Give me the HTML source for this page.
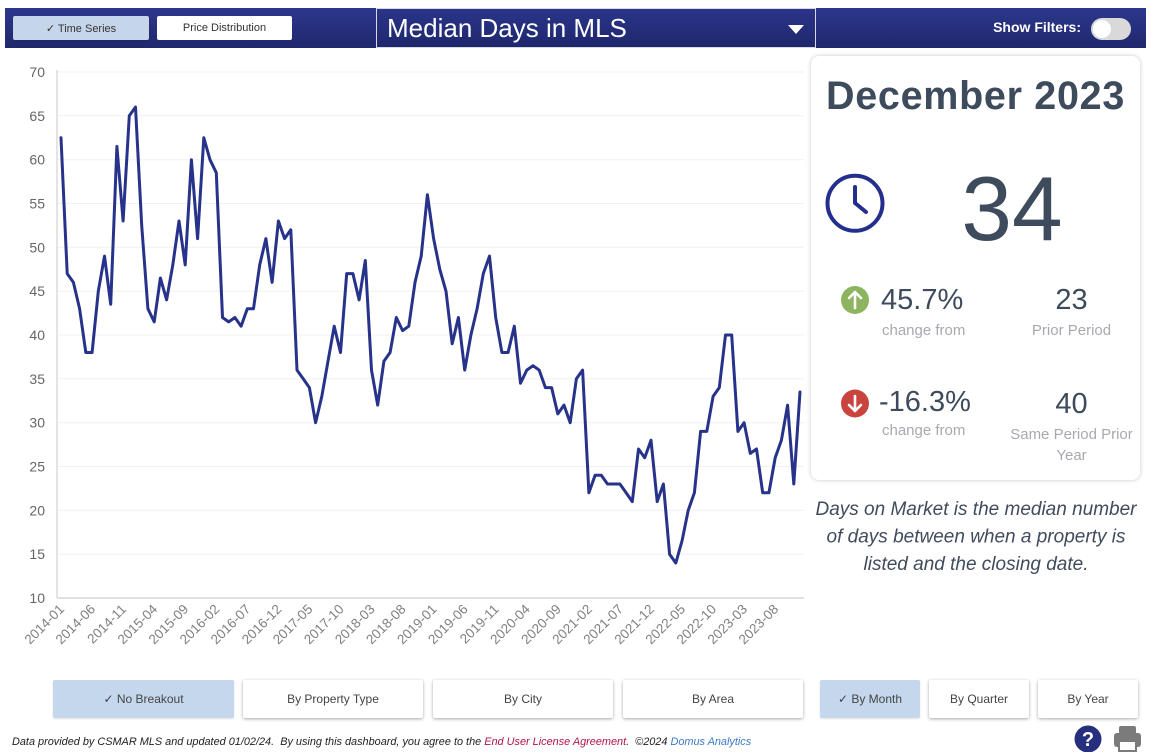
<!DOCTYPE html>
<html><head><meta charset="utf-8">
<style>
*{box-sizing:border-box;margin:0;padding:0}
body{width:1151px;height:752px;overflow:hidden;background:#fff;font-family:"Liberation Sans",Arial,sans-serif;position:relative}
.abs{position:absolute}
.hdr{left:5px;top:8px;width:1141px;height:40px;background:linear-gradient(#2c388d,#1f276c)}
.tbtn{top:16px;height:24px;font-size:11px;color:#333;display:flex;align-items:center;justify-content:center;border-radius:2px}
.title{left:376px;top:8px;width:440px;height:40px;border:1px solid #d8d8e8;background:linear-gradient(#2a358a,#1f276c);color:#fff;font-size:26px;line-height:38px;padding-left:10px}
.sf{left:960px;top:19px;width:121px;text-align:right;color:#fff;font-weight:bold;font-size:14px}
.tog{left:1091px;top:18px;width:40px;height:22px;border-radius:11px;background:#d9d9d9}
.knob{left:1093px;top:20px;width:18px;height:18px;border-radius:9px;background:#fff}
.card{left:811px;top:56px;width:329px;height:424px;border-radius:8px;background:#fff;box-shadow:0 0 4px rgba(0,0,0,0.22)}
.btn{top:680px;height:38px;background:#fff;box-shadow:0 1px 3px rgba(0,0,0,0.35);font-size:12px;color:#444;display:flex;align-items:center;justify-content:center;border-radius:2px}
.sel{background:#c5d7ec;box-shadow:0 1px 2px rgba(0,0,0,0.12)}
.foot{left:12px;top:736px;font-size:10.9px;font-style:italic;color:#222;white-space:pre}
</style></head><body>
<div class="abs hdr"></div>
<div class="abs tbtn sel" style="left:13px;width:136px;background:#c5d6ea">✓ Time Series</div>
<div class="abs tbtn" style="left:157px;width:135px;background:#fff">Price Distribution</div>
<div class="abs title">Median Days in MLS</div>
<svg class="abs" style="left:786px;top:22px" width="20" height="14"><polygon points="2,3 18,3 10,12" fill="#fff"/></svg>
<div class="abs sf">Show Filters:</div>
<div class="abs tog"></div>
<div class="abs knob"></div>

<svg class="abs" style="left:0;top:0" width="810" height="670">
<g stroke="#f0f0f0" stroke-width="1">
<line x1="57" x2="804" y1="72" y2="72"/><line x1="57" x2="804" y1="115.8" y2="115.8"/><line x1="57" x2="804" y1="159.7" y2="159.7"/><line x1="57" x2="804" y1="203.5" y2="203.5"/><line x1="57" x2="804" y1="247.3" y2="247.3"/><line x1="57" x2="804" y1="291.2" y2="291.2"/><line x1="57" x2="804" y1="335" y2="335"/><line x1="57" x2="804" y1="378.8" y2="378.8"/><line x1="57" x2="804" y1="422.7" y2="422.7"/><line x1="57" x2="804" y1="466.5" y2="466.5"/><line x1="57" x2="804" y1="510.3" y2="510.3"/><line x1="57" x2="804" y1="554.2" y2="554.2"/>
</g>
<line x1="57" x2="804" y1="598" y2="598" stroke="#cfcfcf" stroke-width="1.2"/>
<line x1="57" x2="57" y1="70" y2="598" stroke="#dcdcdc" stroke-width="1.5"/>
<g font-family="Liberation Sans, Arial, sans-serif" font-size="14" fill="#666" text-anchor="end">
<text x="45" y="77">70</text><text x="45" y="120.8">65</text><text x="45" y="164.7">60</text><text x="45" y="208.5">55</text><text x="45" y="252.3">50</text><text x="45" y="296.2">45</text><text x="45" y="340">40</text><text x="45" y="383.8">35</text><text x="45" y="427.7">30</text><text x="45" y="471.5">25</text><text x="45" y="515.3">20</text><text x="45" y="559.2">15</text><text x="45" y="603">10</text>
</g>
<polyline fill="none" stroke="#27338a" stroke-width="3" stroke-linejoin="round" stroke-linecap="round" points="61.0,137.8 67.2,273.6 73.4,282.4 79.6,308.7 85.8,352.5 92.1,352.5 98.3,291.2 104.5,256.1 110.7,304.3 116.9,146.5 123.1,221.0 129.3,115.8 135.5,107.1 141.7,225.4 147.9,308.7 154.2,321.9 160.4,278.0 166.6,299.9 172.8,264.9 179.0,221.0 185.2,264.9 191.4,159.7 197.6,238.6 203.8,137.8 210.0,159.7 216.3,172.8 222.5,317.5 228.7,321.9 234.9,317.5 241.1,326.2 247.3,308.7 253.5,308.7 259.7,264.9 265.9,238.6 272.1,282.4 278.4,221.0 284.6,238.6 290.8,229.8 297.0,370.1 303.2,378.8 309.4,387.6 315.6,422.7 321.8,396.4 328.0,361.3 334.2,326.2 340.5,352.5 346.7,273.6 352.9,273.6 359.1,299.9 365.3,260.5 371.5,370.1 377.7,405.1 383.9,361.3 390.1,352.5 396.3,317.5 402.6,330.6 408.8,326.2 415.0,282.4 421.2,256.1 427.4,194.7 433.6,238.6 439.8,269.3 446.0,291.2 452.2,343.8 458.4,317.5 464.7,370.1 470.9,335.0 477.1,308.7 483.3,273.6 489.5,256.1 495.7,317.5 501.9,352.5 508.1,352.5 514.3,326.2 520.5,383.2 526.8,370.1 533.0,365.7 539.2,370.1 545.4,387.6 551.6,387.6 557.8,413.9 564.0,405.1 570.2,422.7 576.4,378.8 582.6,370.1 588.9,492.8 595.1,475.3 601.3,475.3 607.5,484.0 613.7,484.0 619.9,484.0 626.1,492.8 632.3,501.6 638.5,449.0 644.7,457.7 651.0,440.2 657.2,501.6 663.4,484.0 669.6,554.2 675.8,563.0 682.0,541.0 688.2,510.4 694.4,492.8 700.6,431.4 706.8,431.4 713.1,396.4 719.3,387.6 725.5,335.0 731.7,335.0 737.9,431.4 744.1,422.7 750.3,453.4 756.5,449.0 762.7,492.8 768.9,492.8 775.2,457.7 781.4,440.2 787.6,405.1 793.8,484.0 800.0,392.0"/>
<g font-family="Liberation Sans, Arial, sans-serif" font-size="13.5" fill="#808080" text-anchor="end">
<text transform="translate(65,610) rotate(-45)">2014-01</text>
<text transform="translate(96.1,610) rotate(-45)">2014-06</text>
<text transform="translate(127.1,610) rotate(-45)">2014-11</text>
<text transform="translate(158.2,610) rotate(-45)">2015-04</text>
<text transform="translate(189.2,610) rotate(-45)">2015-09</text>
<text transform="translate(220.3,610) rotate(-45)">2016-02</text>
<text transform="translate(251.3,610) rotate(-45)">2016-07</text>
<text transform="translate(282.4,610) rotate(-45)">2016-12</text>
<text transform="translate(313.4,610) rotate(-45)">2017-05</text>
<text transform="translate(344.5,610) rotate(-45)">2017-10</text>
<text transform="translate(375.5,610) rotate(-45)">2018-03</text>
<text transform="translate(406.6,610) rotate(-45)">2018-08</text>
<text transform="translate(437.6,610) rotate(-45)">2019-01</text>
<text transform="translate(468.7,610) rotate(-45)">2019-06</text>
<text transform="translate(499.7,610) rotate(-45)">2019-11</text>
<text transform="translate(530.8,610) rotate(-45)">2020-04</text>
<text transform="translate(561.8,610) rotate(-45)">2020-09</text>
<text transform="translate(592.9,610) rotate(-45)">2021-02</text>
<text transform="translate(623.9,610) rotate(-45)">2021-07</text>
<text transform="translate(655.0,610) rotate(-45)">2021-12</text>
<text transform="translate(686.0,610) rotate(-45)">2022-05</text>
<text transform="translate(717.1,610) rotate(-45)">2022-10</text>
<text transform="translate(748.1,610) rotate(-45)">2023-03</text>
<text transform="translate(779.2,610) rotate(-45)">2023-08</text>
</g>
</svg>

<div class="abs card"></div>
<svg class="abs" style="left:0;top:0;pointer-events:none" width="1151" height="752">
<g font-family="Liberation Sans, Arial, sans-serif" fill="#3d4b5c">
<text x="975.5" y="109" font-size="39.5" font-weight="bold" text-anchor="middle" letter-spacing="0.7">December 2023</text>
<text x="1012" y="240" font-size="91" text-anchor="middle">34</text>
<text x="881" y="309" font-size="29">45.7%</text>
<text x="1071.5" y="309" font-size="29" text-anchor="middle">23</text>
<text x="879" y="411" font-size="29">-16.3%</text>
<text x="1071.5" y="413" font-size="29" text-anchor="middle">40</text>
</g>
<g font-family="Liberation Sans, Arial, sans-serif" fill="#a8a9b0" font-size="15">
<text x="882" y="335">change from</text>
<text x="1071.5" y="335" text-anchor="middle">Prior Period</text>
<text x="882" y="435">change from</text>
<text x="1071.5" y="439" text-anchor="middle">Same Period Prior</text>
<text x="1071.5" y="460" text-anchor="middle">Year</text>
</g>
<circle cx="855" cy="203.3" r="27.5" fill="none" stroke="#232f8c" stroke-width="4"/>
<polyline points="855,187 855,203 866,212" fill="none" stroke="#232f8c" stroke-width="4" stroke-linecap="round" stroke-linejoin="round"/>
<circle cx="855" cy="300" r="14" fill="#8db45e"/>
<path d="M855,308 L855,292 M849,298 L855,292 L861,298" fill="none" stroke="#fff" stroke-width="2.6" stroke-linecap="round" stroke-linejoin="round"/>
<circle cx="855" cy="403.5" r="14" fill="#c9443e"/>
<path d="M855,396 L855,411 M849,405 L855,411 L861,405" fill="none" stroke="#fff" stroke-width="2.6" stroke-linecap="round" stroke-linejoin="round"/>
<g font-family="Liberation Sans, Arial, sans-serif" font-style="italic" font-size="19" fill="#404b5c" text-anchor="middle">
<text x="976" y="515">Days on Market is the median number</text>
<text x="976" y="542.5">of days between when a property is</text>
<text x="976" y="570">listed and the closing date.</text>
</g>
<circle cx="1088" cy="739" r="13.5" fill="#26307f"/>
<text x="1088" y="746" font-family="Liberation Sans, Arial, sans-serif" font-weight="bold" font-size="20" fill="#fff" text-anchor="middle">?</text>
<rect x="1119" y="726" width="17" height="9" rx="2" fill="#7b7b7b"/>
<rect x="1114" y="733" width="27" height="14" rx="3" fill="#7b7b7b"/>
<rect x="1119" y="741" width="17" height="10" fill="#fff" stroke="#7b7b7b" stroke-width="2"/>
</svg>

<div class="abs btn sel" style="left:53px;width:181px">✓ No Breakout</div>
<div class="abs btn" style="left:243px;width:180px">By Property Type</div>
<div class="abs btn" style="left:433px;width:180px">By City</div>
<div class="abs btn" style="left:623px;width:180px">By Area</div>
<div class="abs btn sel" style="left:820px;width:100px">✓ By Month</div>
<div class="abs btn" style="left:929px;width:100px">By Quarter</div>
<div class="abs btn" style="left:1038px;width:100px">By Year</div>

<div class="abs foot">Data provided by CSMAR MLS and updated 01/02/24.  By using this dashboard, you agree to the <span style="color:#b3124a">End User License Agreement</span>.  ©2024 <span style="color:#3b7bc9">Domus Analytics</span></div>
</body></html>
